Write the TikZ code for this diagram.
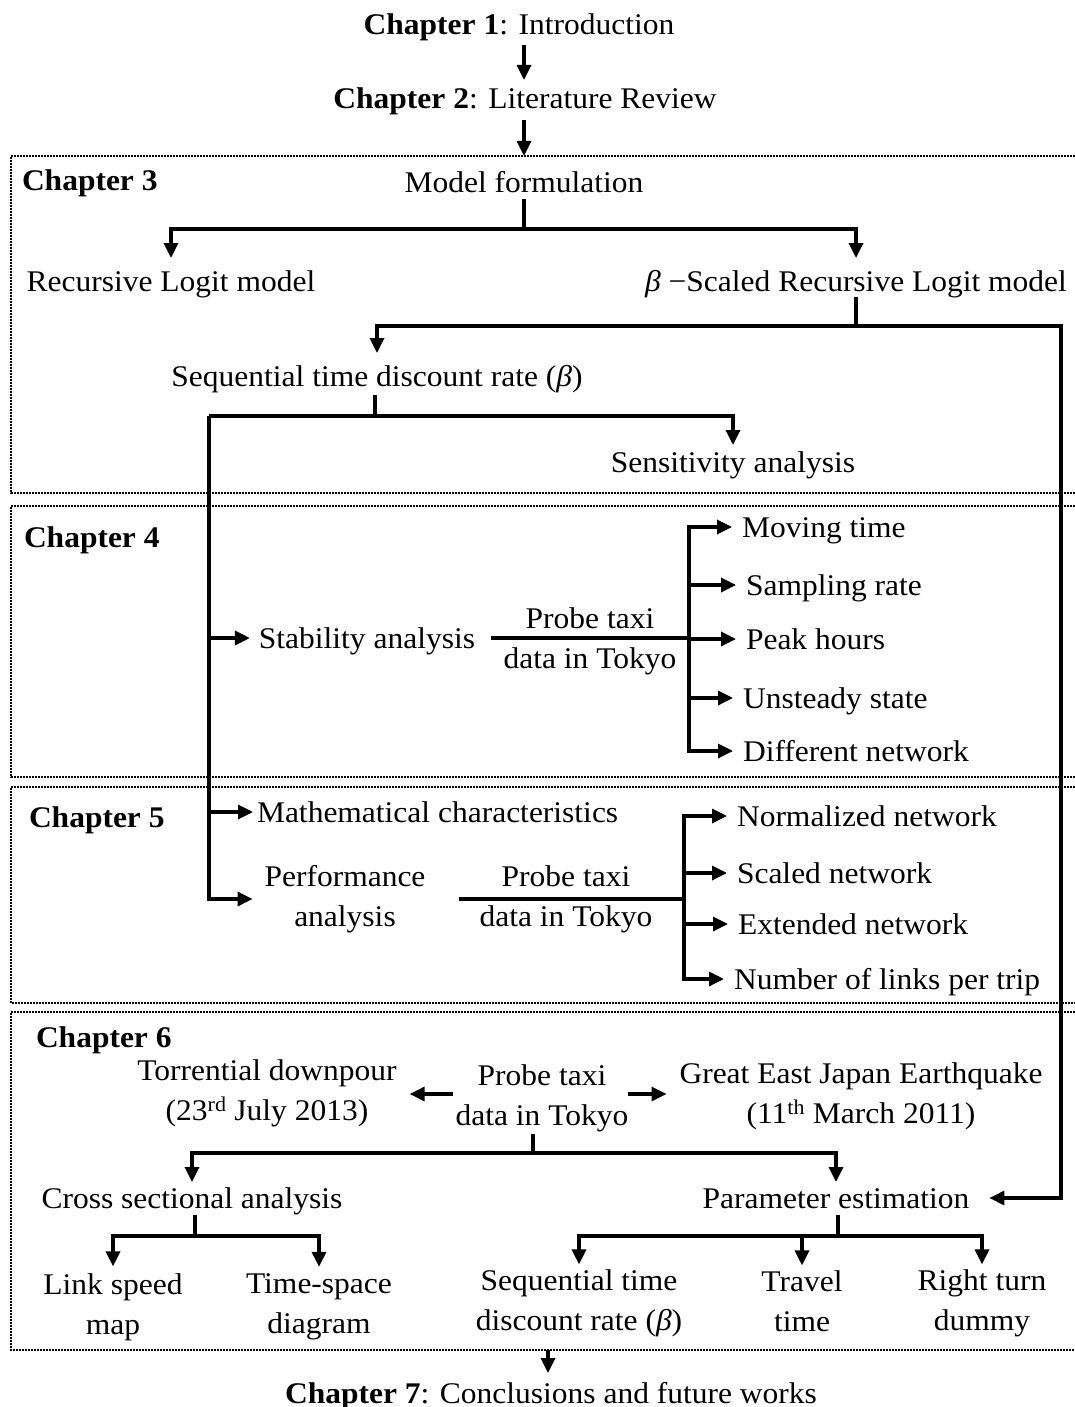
\documentclass[tikz,border=0pt]{standalone}
\usepackage{fontspec}
\setmainfont{Liberation Serif}[FakeStretch=1.05]
\usetikzlibrary{arrows.meta}
\begin{document}
\begin{tikzpicture}[x=1pt,y=-1pt,
  every node/.style={inner sep=0pt, outer sep=0pt, font=\fontsize{30}{40}\selectfont},
  txt/.style={text height=20pt, text depth=0pt},
  txt2/.style={align=center},
  ln/.style={line width=3.3pt},
  arr/.style={ln, -{Triangle[length=15pt,width=14pt]}},
  dotbox/.style={line width=1.6pt, dash pattern=on 1.6pt off 1.4pt}
]
\fill[white] (0,0) rectangle (1075,1407);
\useasboundingbox (0,0) rectangle (1075,1407);

% chapter boxes
\draw[dotbox] (1075,156) -- (11,156) -- (11,493) -- (1075,493);
\draw[dotbox] (1075,506) -- (11,506) -- (11,777) -- (1075,777);
\draw[dotbox] (1075,787) -- (11,787) -- (11,1003) -- (1075,1003);
\draw[dotbox] (1075,1012) -- (11,1012) -- (11,1350) -- (1075,1350);

% top
\node[txt] (ch1) at (519,25) {\textbf{Chapter 1}: Introduction};
\node[txt] (ch2) at (525,99) {\textbf{Chapter 2}: Literature Review};
\coordinate (ax) at (524,0);
\coordinate (b3) at (524,156);
\draw[arr, shorten <=10pt, shorten >=9pt] (ch1.south -| ax) -- (ch2.north -| ax);
\draw[arr, shorten <=11pt] (ch2.south -| b3) -- (b3);

% chapter 3
\node[txt, anchor=west] (lab3) at (22,180) {\textbf{Chapter 3}};
\node[txt] (mf) at (524,183) {Model formulation};
\node[txt] (rl) at (171,281) {Recursive Logit model};
\node[txt] (bs) at (856,281) {{\itshape β} −Scaled Recursive Logit model};
\node[txt] (seq) at (377,376) {Sequential time discount rate ({\itshape β})};
\node[txt] (sens) at (733,462) {Sensitivity analysis};

\coordinate (j3a) at (524,229);
\coordinate (j3b) at (856,326);
\coordinate (rtop) at (1061,326);
\coordinate (j3c) at (375,416);
\coordinate (tr) at (209,416);

\draw[ln, shorten <=6pt] (mf.south) -- (j3a);
\draw[arr, shorten >=13pt] (j3a) -| (rl.north);
\draw[arr, shorten >=13pt] (j3a) -| (bs.north);
\draw[ln, shorten <=6pt] (bs.south) -- (j3b);
\draw[arr, shorten >=13pt] (j3b) -| (seq.north);
\draw[ln, shorten <=9pt] (seq.south -| j3c) -- (j3c);
\draw[arr, shorten >=7pt] (j3c) -| (sens.north);
\draw[ln] (j3c) -- (tr);

% chapter 4
\node[txt, anchor=west] (lab4) at (24,537) {\textbf{Chapter 4}};
\node[txt] (stab) at (367,638) {Stability analysis};
\node[txt2] (p4) at (590,641) {Probe taxi\\data in Tokyo};
\node[txt, anchor=west] (mt) at (742,527) {Moving time};
\node[txt, anchor=west] (sr) at (746,585) {Sampling rate};
\node[txt, anchor=west] (ph) at (746,639) {Peak hours};
\node[txt, anchor=west] (us) at (743,698) {Unsteady state};
\node[txt, anchor=west] (dn) at (743,751) {Different network};
\coordinate (j4) at (689,638);
\draw[ln, shorten <=16pt] (stab.east) -- (j4);
\foreach \t in {mt,sr,ph,us,dn}{
  \draw[arr, shorten >=10pt] (j4) |- (\t.west);
}

% chapter 5
\node[txt, anchor=west] (lab5) at (29,817) {\textbf{Chapter 5}};
\node[txt, anchor=west] (math) at (257,812) {Mathematical characteristics};
\node[txt2] (perf) at (345,899) {Performance\\analysis};
\node[txt2] (p5) at (566,899) {Probe taxi\\data in Tokyo};
\node[txt, anchor=west] (nn) at (737,816) {Normalized network};
\node[txt, anchor=west] (sn) at (737,873) {Scaled network};
\node[txt, anchor=west] (en) at (738,924) {Extended network};
\node[txt, anchor=west] (nl) at (734,979) {Number of links per trip};
\coordinate (j5) at (684,899);

\draw[arr, shorten >=9pt] (tr) |- (stab.west);
\draw[arr, shorten >=4pt] (tr) |- (math.west);
\draw[arr, shorten >=12pt] (tr) |- (perf.west);
\draw[ln, shorten <=34pt] (perf.east) -- (j5);
\foreach \t in {nn,sn,en,nl}{
  \draw[arr, shorten >=10pt] (j5) |- (\t.west);
}

% chapter 6
\node[txt, anchor=west] (lab6) at (36,1037) {\textbf{Chapter 6}};
\node[txt2] (tor) at (267,1093) {Torrential downpour\\(23\textsuperscript{rd} July 2013)};
\node[txt2] (p6) at (542,1098) {Probe taxi\\data in Tokyo};
\node[txt2] (gej) at (861,1096) {Great East Japan Earthquake\\(11\textsuperscript{th} March 2011)};
\node[txt] (cs) at (192,1198) {Cross sectional analysis};
\node[txt] (pe) at (836,1198) {Parameter estimation};
\node[txt2] (ls) at (113,1307) {Link speed\\map};
\node[txt2] (ts) at (319,1307) {Time-space\\diagram};
\node[txt2] (sq) at (579,1303) {Sequential time\\discount rate ({\itshape β})};
\node[txt2] (tt) at (802,1301) {Travel\\time};
\node[txt2] (rtd) at (982,1303) {Right turn\\dummy};

\coordinate (p6l) at ([yshift=4pt]p6.west);
\coordinate (p6r) at ([yshift=4pt]p6.east);
\draw[arr, shorten <=3pt, shorten >=13pt] (p6l) -- (p6l -| tor.east);
\draw[arr, shorten >=13pt] (p6r) -- (p6r -| gej.west);

\coordinate (j6) at (533,1153);
\coordinate (j6a) at (195,1236);
\coordinate (j6b) at (838,1236);
\draw[ln, shorten <=2pt] (p6.south -| j6) -- (j6);
\draw[arr, shorten >=6pt] (j6) -| (cs.north);
\draw[arr, shorten >=6pt] (j6) -| (pe.north);
\draw[arr, shorten >=20pt] (j3b) -- (rtop) |- (pe.east);

\draw[ln, shorten <=7pt] (cs.south -| j6a) -- (j6a);
\draw[arr, shorten >=7pt] (j6a) -| (ls.north);
\draw[arr, shorten >=7pt] (j6a) -| (ts.north);
\draw[ln, shorten <=7pt] (pe.south -| j6b) -- (j6b);
\draw[arr, shorten >=5pt] (j6b) -| (sq.north);
\draw[arr, shorten >=5pt] (j6b) -| (tt.north);
\draw[arr, shorten >=5pt] (j6b) -| (rtd.north);

% chapter 7
\node[txt] (ch7) at (551,1393) {\textbf{Chapter 7}: Conclusions and future works};
\coordinate (b6) at (548,1350);
\draw[arr, shorten >=10pt] (b6) -- (b6 |- ch7.north);
\end{tikzpicture}
\end{document}
